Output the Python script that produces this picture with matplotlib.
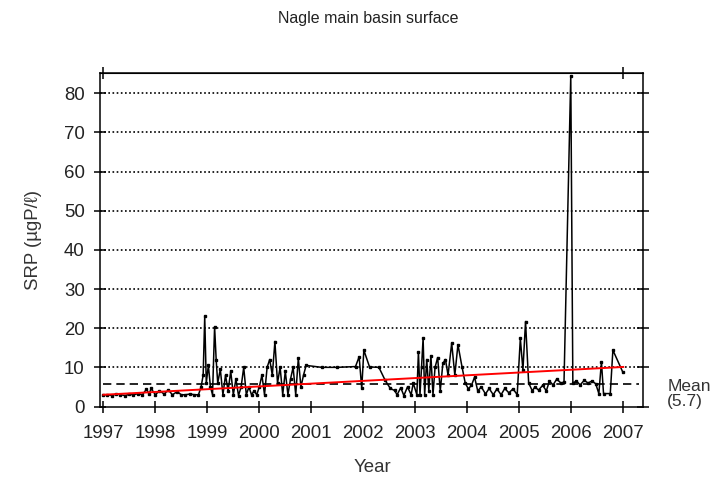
import numpy as np
import matplotlib
matplotlib.use("Agg")
from matplotlib import pyplot as plt
import matplotlib.transforms as mtransforms

plt.rcParams['font.family'] = ['Liberation Sans', 'DejaVu Sans']

title = "Nagle main basin surface"
ylabel = "SRP (\u00b5gP/\u2113)"
xlabel = "Year"

# sampling date (decimal year) and SRP value
years = [1997.00, 1997.08, 1997.17, 1997.25, 1997.33, 1997.42, 1997.50, 1997.58, 1997.67, 1997.75,
         1997.83, 1997.88, 1997.92, 1998.00, 1998.08, 1998.17, 1998.25, 1998.33, 1998.42, 1998.50,
         1998.58, 1998.67, 1998.75, 1998.83, 1998.88, 1998.92, 1998.95, 1998.98, 1999.02, 1999.06,
         1999.10, 1999.14, 1999.17, 1999.20, 1999.25, 1999.30, 1999.35, 1999.40, 1999.45, 1999.50,
         1999.55, 1999.60, 1999.65, 1999.70, 1999.75, 1999.80, 1999.85, 1999.90, 1999.95, 2000.00,
         2000.05, 2000.10, 2000.15, 2000.20, 2000.25, 2000.30, 2000.35, 2000.40, 2000.45, 2000.50,
         2000.55, 2000.60, 2000.65, 2000.70, 2000.75, 2000.80, 2000.85, 2000.90, 2001.20, 2001.50,
         2001.85, 2001.92, 2001.97, 2002.01, 2002.12, 2002.30, 2002.42, 2002.52, 2002.60, 2002.65,
         2002.72, 2002.78, 2002.85, 2002.92, 2002.96, 2003.03, 2003.06, 2003.09, 2003.12, 2003.15,
         2003.18, 2003.22, 2003.26, 2003.30, 2003.34, 2003.38, 2003.43, 2003.48, 2003.53, 2003.58,
         2003.63, 2003.70, 2003.76, 2003.82, 2003.90, 2003.96, 2004.02, 2004.08, 2004.14, 2004.20,
         2004.27, 2004.35, 2004.42, 2004.50, 2004.57, 2004.65, 2004.72, 2004.80, 2004.88, 2004.96,
         2005.02, 2005.07, 2005.12, 2005.18, 2005.25, 2005.30, 2005.37, 2005.45, 2005.52, 2005.58,
         2005.65, 2005.72, 2005.80, 2005.86, 2005.99, 2006.03, 2006.10, 2006.17, 2006.25, 2006.32,
         2006.40, 2006.47, 2006.53, 2006.58, 2006.62, 2006.75, 2006.80, 2006.99]
srp = [3.0, 3.0, 2.8, 3.2, 3.0, 2.8, 3.1, 3.0, 3.3, 3.0,
       4.4, 3.2, 4.6, 3.0, 4.0, 3.2, 4.2, 3.0, 3.8, 3.0,
       3.0, 3.2, 3.0, 3.0, 5.0, 8.0, 23.0, 6.0, 10.5, 5.0,
       3.0, 20.4, 12.0, 6.0, 9.5, 3.0, 8.0, 4.0, 9.0, 3.0,
       7.0, 2.8, 5.0, 10.0, 3.0, 5.0, 3.0, 4.0, 3.0, 5.0,
       8.0, 3.0, 10.0, 12.0, 8.0, 16.6, 6.0, 10.0, 3.0, 9.0,
       3.0, 7.0, 10.0, 3.0, 12.3, 5.0, 8.0, 10.5, 10.0, 10.0,
       10.2, 12.7, 4.6, 14.4, 10.1, 10.0, 6.7, 4.6, 4.1, 3.0,
       4.8, 2.8, 5.0, 3.0, 6.0, 3.0, 14.0, 3.0, 10.0, 17.5,
       3.0, 12.0, 4.0, 13.0, 3.0, 10.0, 12.5, 4.0, 11.0, 12.0,
       8.0, 16.2, 8.0, 15.8, 10.0, 6.0, 4.5, 5.4, 7.5, 4.0,
       5.0, 3.2, 4.6, 3.0, 4.5, 3.0, 4.6, 3.5, 4.5, 3.0,
       17.4, 9.3, 21.7, 6.0, 4.0, 5.0, 4.2, 5.4, 4.0, 6.5,
       5.5, 7.0, 6.0, 6.2, 84.5, 6.0, 6.5, 5.5, 6.7, 6.0,
       6.5, 5.8, 3.3, 11.4, 3.3, 3.3, 14.4, 8.8]

trend_years = [1997.0, 2007.0]
trend_srp = [3.0, 10.1]

mean_value = 5.7
mean_years = [1997.0, 2007.3]
mean_label = "Mean\n(5.7)"

year_ticks = list(range(1997, 2008))
srp_ticks = list(range(0, 90, 10))

fig = plt.figure(figsize=(7.13, 4.78), dpi=100)
ax = fig.add_axes([100 / 713, 1 - 406.5 / 478, 543.3 / 713, (406.5 - 73.3) / 478])

for y in srp_ticks[1:]:
    ax.axhline(y, color="black", linestyle=(0, (1, 1.5)), linewidth=1.2, zorder=1)

ax.plot(years, srp, color="black", linewidth=1.1, marker="s", markersize=1.8, zorder=3)
ax.plot(trend_years, trend_srp, color="red", linewidth=1.4, zorder=4)
ax.plot(mean_years, [mean_value, mean_value], color="black", linestyle=(0, (5, 3)),
        linewidth=1.2, zorder=2)

ax.set_xlim(1996.936, 2007.385)
ax.set_ylim(0, 85.1)
ax.set_xticks(year_ticks)
ax.set_yticks(srp_ticks)
ax.tick_params(axis="both", direction="inout", length=8, width=1.1,
               labelsize=13.4, labelcolor="#222222")
ax.tick_params(axis="x", pad=9)
ax.tick_params(axis="y", pad=7, right=True)
for s in ax.spines.values():
    s.set_linewidth(1.1)

top = ax.secondary_xaxis("top")
top.set_xticks([1997, 2007])
top.set_xticklabels(["", ""])
top.tick_params(direction="inout", length=8, width=1.1)

trans = mtransforms.blended_transform_factory(ax.transAxes, ax.transData)
ax.text(1.044, 3.3, mean_label, transform=trans, ha="left", va="center",
        fontsize=12.5, color="#333333", linespacing=1.0)

fig.text(368 / 713, 1 - 18 / 478, title, ha="center", va="center", fontsize=11.5, color="#222222")
fig.text(33 / 713, 1 - 240 / 478, ylabel, ha="center", va="center", rotation=90,
         fontsize=13.4, color="#333333")
fig.text(372 / 713, 1 - 467 / 478, xlabel, ha="center", va="center", fontsize=13.4, color="#333333")

fig.savefig("out.png", dpi=100)
